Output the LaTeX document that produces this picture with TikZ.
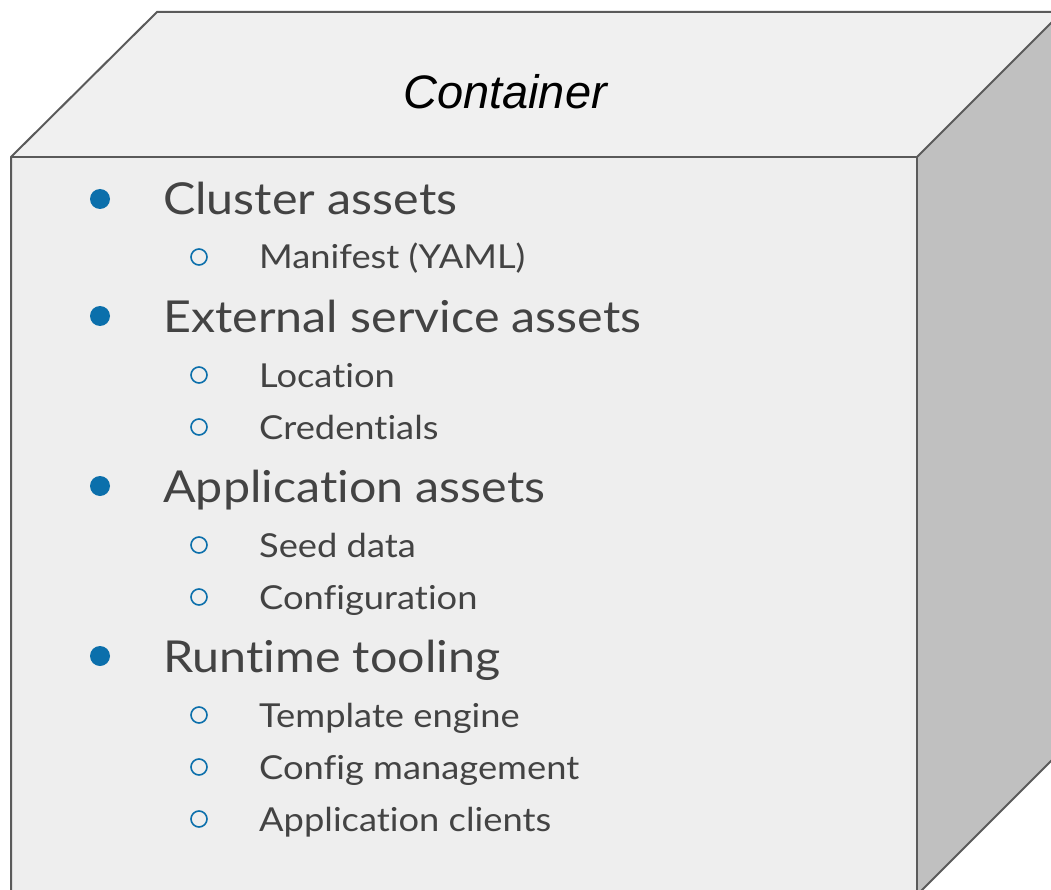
\documentclass[tikz,border=0pt]{standalone}
\usepackage{fontspec}
\setmainfont{Lato}
\newfontfamily\listfont[FakeStretch=1.1,Ligatures={NoCommon,NoRare,NoContextual}]{Lato}
\newfontfamily\titlefont{Liberation Sans}
\definecolor{edge}{HTML}{5A5A5A}
\definecolor{frontface}{HTML}{EEEEEE}
\definecolor{topface}{HTML}{F0F0F0}
\definecolor{sideface}{HTML}{C0C0C0}
\definecolor{itemtext}{HTML}{434343}
\definecolor{bulletblue}{HTML}{0B6FAB}
\begin{document}
\begin{tikzpicture}[x=1pt,y=-1pt,
  face/.style={draw=edge,line width=2pt,line join=miter},
  lvlone/.style={anchor=base west,inner sep=0pt,text=itemtext,font=\listfont\fontsize{44}{50}\selectfont},
  lvltwo/.style={anchor=base west,inner sep=0pt,text=itemtext,font=\listfont\fontsize{33}{38}\selectfont},
  dotone/.style={circle,fill=bulletblue,inner sep=0pt,minimum size=20pt},
  dottwo/.style={circle,draw=bulletblue,line width=1.6pt,inner sep=0pt,minimum size=16pt}]
\useasboundingbox (0,0) rectangle (1051,890);
\begin{scope}
\clip (0,0) rectangle (1051,890);
% cube faces
\fill[topface] (11,157) -- (157,12) -- (1063,12) -- (917,157) -- cycle;
\fill[sideface] (917,157) -- (1063,12) -- (1063,749) -- (917,895) -- cycle;
\fill[frontface] (11,157) rectangle (917,895);
\draw[face] (11,900) -- (11,157) -- (157,12) -- (1070,12);
\draw[face] (11,157) -- (917,157) -- (917,900);
\draw[face] (917,157) -- (1063,11);
\draw[face] (917,895) -- (1063,749);
\end{scope}
\node[font=\titlefont\itshape\fontsize{47}{52}\selectfont,text=black] (title) at (505,92) {Container};
% level one items
\foreach \y/\t/\n in {215/Cluster assets/a, 332/External service assets/b, 502/Application assets/c, 672/Runtime tooling/d}{
  \node[dotone] (b\n) at (100,\y-16) {};
  \node[lvlone] (t\n) at (163,\y) {\t};
}
% level two items
\foreach \y/\t/\n in {269/Manifest (YAML)/a1, 387/Location/b1, 439/Credentials/b2, 557/Seed data/c1, 609/Configuration/c2, 727/Template engine/d1, 779/Config management/d2, 831/Application clients/d3}{
  \node[dottwo] (s\n) at (199,\y-12) {};
  \node[lvltwo] (u\n) at (259,\y) {\t};
}
\end{tikzpicture}
\end{document}
